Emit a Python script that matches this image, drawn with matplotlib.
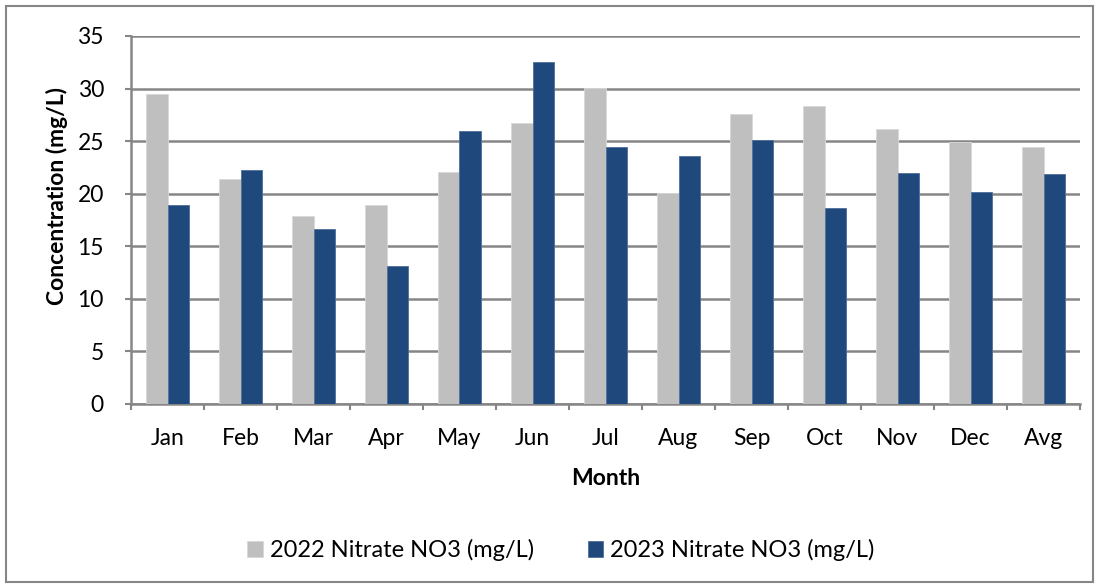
import matplotlib
matplotlib.use("Agg")
import matplotlib.pyplot as plt
import numpy as np
from matplotlib.patches import Rectangle

months = ["Jan", "Feb", "Mar", "Apr", "May", "Jun", "Jul", "Aug", "Sep", "Oct", "Nov", "Dec", "Avg"]
nitrate_2022 = [29.5, 21.4, 17.9, 18.9, 22.1, 26.7, 30.1, 20.1, 27.6, 28.3, 26.2, 24.9, 24.4]
nitrate_2023 = [18.9, 22.3, 16.6, 13.1, 26.0, 32.5, 24.4, 23.6, 25.1, 18.6, 22.0, 20.2, 21.9]
labels = ["2022 Nitrate NO3 (mg/L)", "2023 Nitrate NO3 (mg/L)"]

plt.rcParams['font.family'] = ['Lato', 'DejaVu Sans']

W, H = 1099, 586
fig = plt.figure(figsize=(W / 100, H / 100), dpi=100)
ax = fig.add_axes([131 / W, 1 - 404 / H, (1080 - 131) / W, (404 - 36) / H])

x = np.arange(len(months))
bw = 0.29
ax.bar(x - bw / 2, nitrate_2022, bw, color="#BFBFBF", edgecolor="#D9D9D9", linewidth=0.6, label=labels[0], zorder=3)
ax.bar(x + bw / 2, nitrate_2023, bw, color="#1F497D", edgecolor="#4F6F99", linewidth=0.6, label=labels[1], zorder=3)

ax.set_xlim(-0.5, len(months) - 0.5)
ax.set_ylim(0, 35)
ax.set_yticks(np.arange(0, 36, 5))
ax.yaxis.grid(True, color="#868686", linewidth=1.8, zorder=0)
ax.set_axisbelow(True)

fs = 16.5
ax.set_xticks(x)
ax.set_xticklabels(months, fontsize=fs)
ax.tick_params(axis='x', length=0, pad=17)
ax.set_xticks(np.arange(-0.5, len(months), 1), minor=True)
ax.tick_params(axis='x', which='minor', length=4.5, width=1.5, color="#868686", direction='out')
ax.tick_params(axis='y', length=4.5, width=1.5, color="#868686", direction='out', labelsize=fs, pad=15)

for s in ['top', 'right']:
    ax.spines[s].set_visible(False)
for s in ['left', 'bottom']:
    ax.spines[s].set_color("#868686")
    ax.spines[s].set_linewidth(1.8)

ax.set_ylabel("Concentration (mg/L)", fontsize=fs, fontweight='bold')
ax.yaxis.set_label_coords(-0.066, 0.565)
ax.set_xlabel("Month", fontsize=fs, fontweight='bold')
ax.xaxis.set_label_coords(0.5, -0.175)

fig.legend(loc='center', bbox_to_anchor=(561 / W, 1 - 550 / H), ncol=2, frameon=False,
           fontsize=17, handlelength=0.65, handleheight=0.65, handletextpad=0.3, columnspacing=2.3)

fig.patches.append(Rectangle((6 / W, 4 / H), (1093 - 6) / W, (580 - 4) / H, transform=fig.transFigure,
                             fill=False, edgecolor="#868686", linewidth=1.5))

fig.savefig("out.png", dpi=100)
